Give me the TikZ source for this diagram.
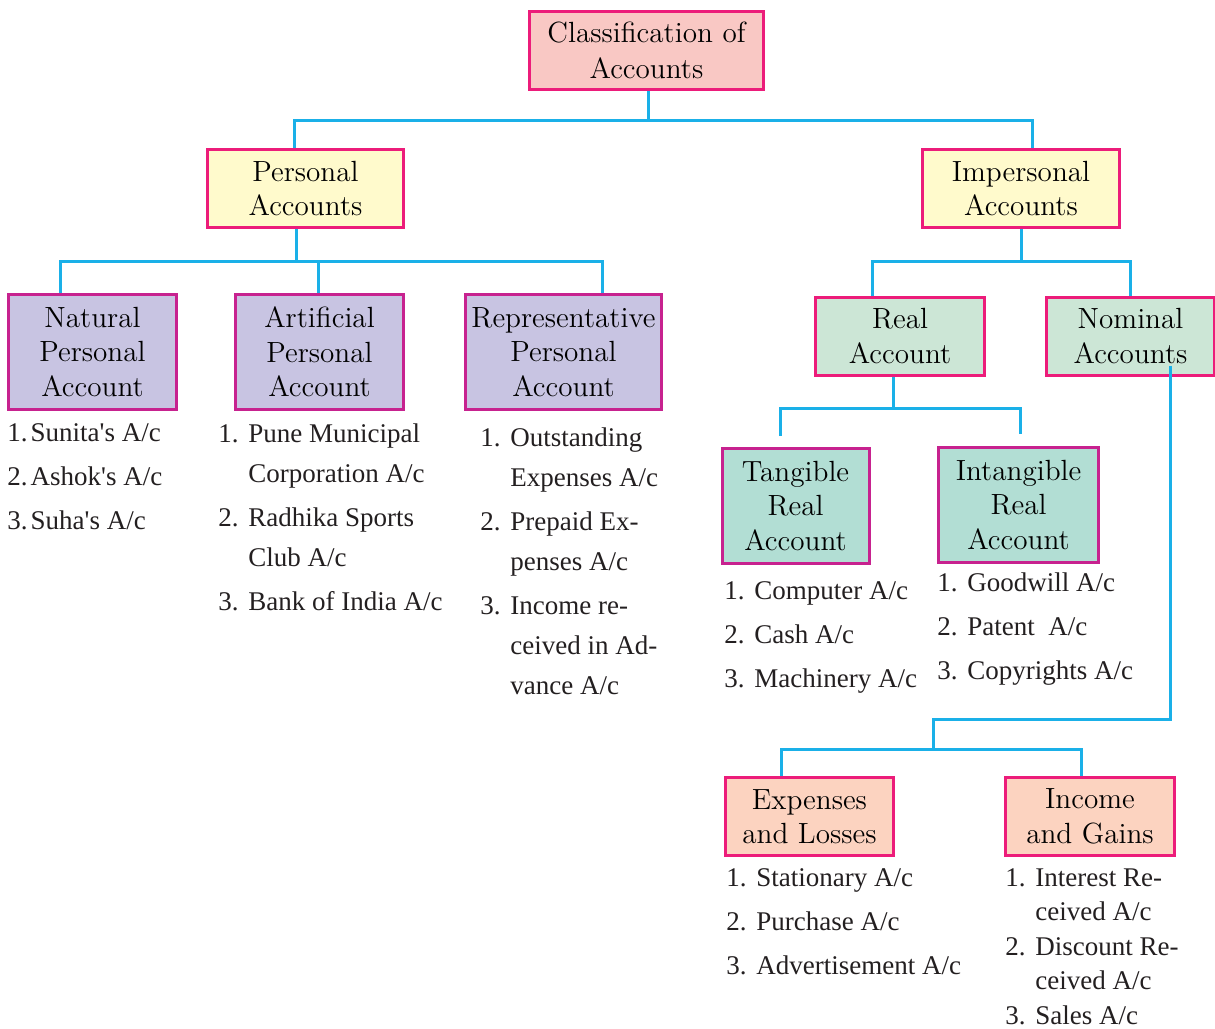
\documentclass[tikz,border=0pt]{standalone}
\usepackage{fontspec}
\newfontfamily\listfont{Liberation Serif}
\usetikzlibrary{positioning}
\definecolor{linkblue}{HTML}{1AB0E8}
\definecolor{hotpink}{HTML}{EC1C7A}
\definecolor{plum}{HTML}{C7228F}
\definecolor{rosefill}{HTML}{F9C8C4}
\definecolor{creamfill}{HTML}{FFFACC}
\definecolor{lilacfill}{HTML}{C8C4E2}
\definecolor{mintfill}{HTML}{CCE6D6}
\definecolor{tealfill}{HTML}{B2DED4}
\definecolor{peachfill}{HTML}{FCD3C0}
\definecolor{inkgray}{HTML}{231F20}
\newcommand{\nr}[1]{\makebox[15pt][l]{#1.}}
\newcommand{\ind}{\hspace*{15pt}}
\tikzset{
  acbox/.style={draw=hotpink, line width=1.5pt, align=center, inner sep=0pt,
    text=black, font=\fontsize{14.6}{17.25}\selectfont, minimum height=39pt},
  tallbox/.style={acbox, draw=plum, minimum height=57.5pt},
  conn/.style={draw=linkblue, line width=1.5pt},
  acclist/.style={anchor=base west, align=left, inner sep=0pt, text=inkgray,
    font=\listfont\fontsize{13.5}{20}\selectfont},
}

\begin{document}
\begin{tikzpicture}[x=0.5pt,y=-0.5pt]
\useasboundingbox (0,0) rectangle (1215,1028);

% boxes
\node[acbox, fill=rosefill, minimum width=117pt, font=\fontsize{14.6}{18}\selectfont] (cls) at (646.5,50.5) {Classification of\\Accounts};
\node[acbox, fill=creamfill, minimum width=98pt] (pers) at (305.5,188.5) {Personal\\Accounts};
\node[acbox, fill=creamfill, minimum width=98.5pt] (imp) at (1021,188.5) {Impersonal\\Accounts};
\node[tallbox, fill=lilacfill, minimum width=84pt] (nat) at (92.5,352) {Natural\\Personal\\Account};
\node[tallbox, fill=lilacfill, minimum width=84pt] (art) at (319.5,352) {Artificial\\Personal\\Account};
\node[tallbox, fill=lilacfill, minimum width=98pt] (rep) at (563.5,352) {Representative\\Personal\\Account};
\node[acbox, fill=mintfill, minimum width=84.5pt] (real) at (900,336) {Real\\Account};
\node[acbox, fill=mintfill, minimum width=84pt] (nom) at (1130.5,336) {Nominal\\Accounts};
\node[tallbox, fill=tealfill, minimum width=73.5pt] (tang) at (795.5,506) {Tangible\\Real\\Account};
\node[tallbox, fill=tealfill, minimum width=80pt] (intang) at (1018.5,505) {Intangible\\Real\\Account};
\node[acbox, fill=peachfill, minimum width=84pt] (exp) at (809.5,816.5) {Expenses\\and Losses};
\node[acbox, fill=peachfill, minimum width=84.5pt] (inc) at (1090,816.5) {Income\\and Gains};

% connectors
\draw[conn] ([xshift=0.75pt]cls.south) -- ++(0,29) coordinate (topbus);
\draw[conn] ([xshift=-5.75pt]pers.north) |- (topbus) -| ([xshift=5.5pt]imp.north);
\draw[conn] ([xshift=-4.75pt]pers.south) -- ++(0,32) coordinate (persbus);
\draw[conn] ([xshift=-16.25pt]nat.north) |- (persbus) -| ([xshift=19.25pt]rep.north);
\draw[conn] ([xshift=-0.75pt]art.north) -- ([xshift=-0.75pt]art.north |- persbus);
\draw[conn] (imp.south) -- ++(0,32) coordinate (impbus);
\draw[conn] ([xshift=-14pt]real.north) |- (impbus) -| (nom.north);
\draw[conn] ([xshift=-3.5pt]real.south) -- ++(0,32) coordinate (realbus);
\draw[conn] ([shift={(-7.75pt,5.5pt)}]tang.north) |- (realbus) -| ([shift={(0.75pt,6pt)}]intang.north);
\coordinate (nombend) at (933,719);
\draw[conn] ([shift={(19.75pt,5.5pt)}]nom.south) |- (nombend) -- ++(0,30) coordinate (nombus);
\draw[conn] ([xshift=-14.25pt]exp.north) |- (nombus) -| ([xshift=-4.5pt]inc.north);

% account lists (placed by the baseline of their last line)
\node[acclist] (natlist) at (7,529) {1.\hspace{1.5pt}Sunita's A/c\\[2pt] 2.\hspace{1.5pt}Ashok's A/c\\[2pt] 3.\hspace{1.5pt}Suha's A/c};
\node[acclist] (artlist) at (218,610) {\nr{1}Pune Municipal\\ \ind Corporation A/c\\[2pt]
  \nr{2}Radhika Sports\\ \ind Club A/c\\[2pt] \nr{3}Bank of India A/c};
\node[acclist] (replist) at (480,694) {\nr{1}Outstanding\\ \ind Expenses A/c\\[2pt]
  \nr{2}Prepaid Ex-\\ \ind penses A/c\\[2pt] \nr{3}Income re-\\ \ind ceived in Ad-\\ \ind vance A/c};
\node[acclist] (tanglist) at (724,687) {\nr{1}Computer A/c\\[2pt] \nr{2}Cash A/c\\[2pt] \nr{3}Machinery A/c};
\node[acclist] (intanglist) at (937,679) {\nr{1}Goodwill A/c\\[2pt] \nr{2}Patent\ \ A/c\\[2pt] \nr{3}Copyrights A/c};
\node[acclist] (explist) at (726,974) {\nr{1}Stationary A/c\\[2pt] \nr{2}Purchase A/c\\[2pt] \nr{3}Advertisement A/c};
\node[acclist, font=\listfont\fontsize{13.5}{17.25}\selectfont] (inclist) at (1005,1024) {\nr{1}Interest Re-\\ \ind ceived A/c\\
  \nr{2}Discount Re-\\ \ind ceived A/c\\ \nr{3}Sales A/c};
\end{tikzpicture}
\end{document}
